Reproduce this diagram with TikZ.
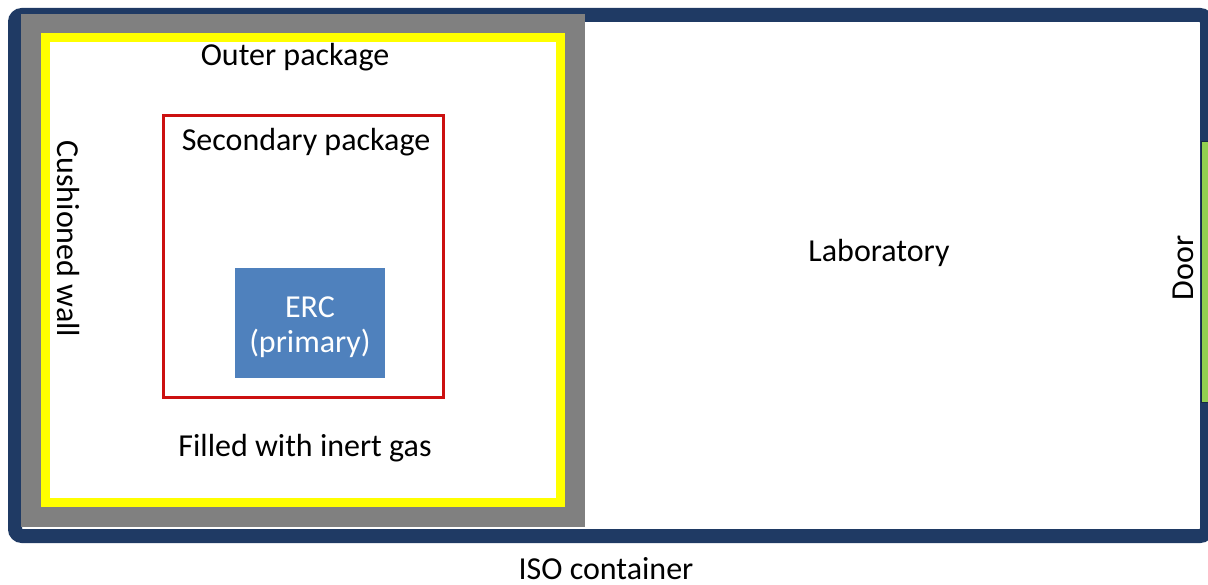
\documentclass[tikz,border=0pt]{standalone}
\usepackage{fontspec}
\setmainfont{Carlito}
\definecolor{isoblue}{HTML}{1F3A64}
\definecolor{wallgray}{HTML}{808080}
\definecolor{outeryellow}{HTML}{FFFF00}
\definecolor{secred}{HTML}{CC1010}
\definecolor{ercblue}{HTML}{4F81BD}
\definecolor{doorgreen}{HTML}{92D050}
\begin{document}
\begin{tikzpicture}[
    x=1pt, y=-1pt,
    line join=miter,
    lbl/.style={font=\fontsize{32}{35}\selectfont, inner sep=0pt}
]
\useasboundingbox (0,0) rectangle (1208,585);

% container, wall and packages
\coordinate (C1) at (15,15);
\coordinate (C2) at (1207,536);
\coordinate (W1) at (21,14);
\coordinate (W2) at (585,527);
\coordinate (Y1) at (45.5,38);
\coordinate (Y2) at (560.5,502);
\coordinate (R1) at (163,116);
\coordinate (R2) at (443,397);

\fill[white] (C1) rectangle (C2);
\draw[isoblue, line width=14pt, rounded corners=7pt] (C1) rectangle (C2);
\fill[wallgray] (W1) rectangle (W2);
\draw[outeryellow, fill=white, line width=9pt] (Y1) rectangle (Y2);
\draw[secred, line width=3pt] (R1) rectangle (R2);

% door
\draw[isoblue!70!black, fill=doorgreen, line width=1pt] (1201,142) rectangle (1210,402);

\node[fill=ercblue, minimum width=150pt, minimum height=110pt, inner sep=0pt]
    (erc) at (310,323) {};
\node[lbl, text=white, align=center] (erctext) at (310,327) {ERC\\(primary)};

\node[lbl] (outer)  at (295,57)  {Outer package};
\node[lbl] (second) at (306,142) {Secondary package};
\node[lbl] (gas)    at (305,448) {Filled with inert gas};
\node[lbl, rotate=-90] (wall) at (68,239) {Cushioned wall};
\node[lbl] (lab)    at (879,253) {Laboratory};
\node[lbl, rotate=90] (door) at (1183,268) {Door};
\node[lbl, anchor=base] (iso) at (606,579) {ISO container};
\end{tikzpicture}
\end{document}
